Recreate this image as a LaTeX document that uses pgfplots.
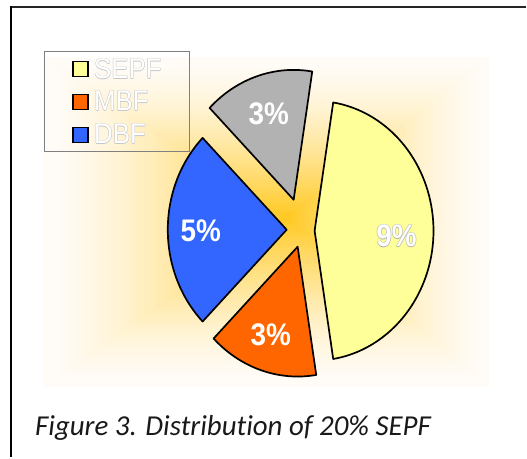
\documentclass[border=0pt]{standalone}
\usepackage{pgfplots}
\pgfplotsset{compat=1.18}
\usepackage{graphicx}
\usepackage{fontspec}
\setmainfont{Carlito}[Ligatures=NoCommon]
\newfontfamily\arialfont{Liberation Sans}
\definecolor{sepf}{RGB}{255,255,153}
\definecolor{mbf}{RGB}{255,102,0}
\definecolor{dbf}{RGB}{51,102,255}
\definecolor{othr}{RGB}{178,178,178}
\definecolor{cream}{RGB}{255,252,248}
\definecolor{glowc}{RGB}{255,200,30}
\definecolor{olgray}{RGB}{200,200,200}

% outlined text: colour of outline, text
\newcommand\olt[2]{\rlap{\color{#1}\kern-0.5bp\relax#2}\rlap{\color{#1}\kern0.5bp\relax#2}\rlap{\color{#1}\raisebox{0.5bp}{#2}}\rlap{\color{#1}\raisebox{-0.5bp}{#2}}\textcolor{white}{#2}}
\newcommand\lbl[1]{\scalebox{1}[1.12]{\arialfont\bfseries\fontsize{28}{30}\selectfont #1}}
\newcommand\legtxt[1]{\scalebox{1}[1.1]{\arialfont\fontsize{26}{28}\selectfont\olt{olgray}{#1}}}

% value, start angle, tip x, tip y, colour
\newcommand\pieslice[5]{%
  \filldraw[fill=#5, draw=black, line width=1.7bp, line join=round]
    (axis cs:#3,#4) -- ++(#2:119bp and 130bp)
    arc[start angle=#2, delta angle={#1*18}, x radius=119bp, y radius=130bp] -- cycle;}

\begin{document}
\begin{tikzpicture}[x=1bp, y=1bp]
% page background
\fill[white] (0,0) rectangle (527,458);
% rectangular glow
\fill[cream] (43,71) rectangle (490,401);
\foreach \i in {1,...,60}{
  \pgfmathsetmacro\t{\i/60}
  \pgfmathsetmacro\xa{43+\t*(287-43)}
  \pgfmathsetmacro\xb{490-\t*(490-287)}
  \pgfmathsetmacro\ya{71+\t*(240-71)}
  \pgfmathsetmacro\yb{401-\t*(401-240)}
  \pgfmathsetmacro\p{100*(\t^1.5)}
  \colorlet{gc}{glowc!\p!cream}
  \fill[gc] (\xa,\ya) rectangle (\xb,\yb);
}
% frame
\draw[black!85, line width=1.3bp] (527,451) -- (11,451);
\draw[black, line width=1.8bp] (11,451.6) -- (11,0);

\begin{axis}[x=1bp, y=1bp, xmin=0, xmax=527, ymin=0, ymax=458,
  y dir=reverse, hide axis, clip=false, at={(0,0)}, anchor=south west]
\pieslice{9}{-81}{315}{231}{sepf}
\pieslice{3}{81}{294}{200}{othr}
\pieslice{5}{135}{287}{230}{dbf}
\pieslice{3}{225}{298}{247}{mbf}
\node[inner sep=0] at (axis cs:269,114) {\lbl{\textcolor{white}{3\%}}};
\node[inner sep=0] at (axis cs:201,231) {\lbl{\textcolor{white}{5\%}}};
\node[inner sep=0] at (axis cs:397,236.5) {\lbl{\olt{black!30}{9\%}}};
\node[inner sep=0] at (axis cs:271,335.5) {\lbl{\textcolor{white}{3\%}}};
\end{axis}

% legend
\draw[black!50, line width=0.9bp] (45,406) rectangle (190,306);
\filldraw[fill=sepf, draw=black, line width=1.6bp] (73,381.5) rectangle (88,396.5);
\filldraw[fill=mbf, draw=black, line width=1.6bp] (73,348.5) rectangle (88,363.5);
\filldraw[fill=dbf, draw=black, line width=1.6bp] (73,315.5) rectangle (88,330.5);
\node[anchor=base west, inner sep=0] at (94,379) {\legtxt{SEPF}};
\node[anchor=base west, inner sep=0] at (94,347) {\legtxt{MBF}};
\node[anchor=base west, inner sep=0] at (94,314) {\legtxt{DBF}};

% caption
\node[anchor=base west, inner sep=0, text=black!90,
  font=\fontsize{29}{30}\selectfont\itshape] at (35,22) {Figure 3. Distribution of 20\% SEPF};
\end{tikzpicture}
\end{document}
